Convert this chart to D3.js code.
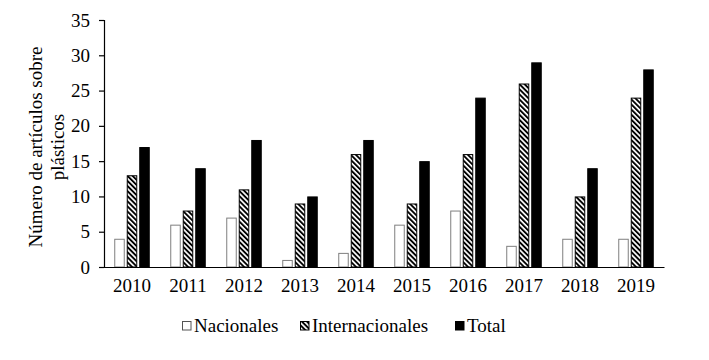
<!DOCTYPE html>
<html>
<head>
<meta charset="utf-8">
<script src="https://cdn.jsdelivr.net/npm/d3@7"></script>
<style>
  html, body { margin: 0; padding: 0; background: #fff; }
  svg text { font-family: "Liberation Serif", "Times New Roman", serif; fill: #000; }
</style>
</head>
<body>
<svg id="chart" width="709" height="360"></svg>
<script>
const years = ["2010","2011","2012","2013","2014","2015","2016","2017","2018","2019"];
const seriesNames = ["Nacionales","Internacionales","Total"];
const nacionales = [4, 6, 7, 1, 2, 6, 8, 3, 4, 4];
const internacionales = [13, 8, 11, 9, 16, 9, 16, 26, 10, 24];
const total = [17, 14, 18, 10, 18, 15, 24, 29, 14, 28];
const yTicks = [0, 5, 10, 15, 20, 25, 30, 35];
const yTitle = ["Número de artículos sobre", "plásticos"];

const seriesValues = [nacionales, internacionales, total];

const svg = d3.select("#chart");
const mLeft = 104, mRight = 664, mTop = 20, mBottom = 267;

const defs = svg.append("defs");
const pat = defs.append("pattern")
  .attr("id", "hatch")
  .attr("patternUnits", "userSpaceOnUse")
  .attr("width", 3.6).attr("height", 3.6)
  .attr("patternTransform", "rotate(-45)");
pat.append("rect").attr("width", 3.6).attr("height", 3.6).attr("fill", "#fff");
pat.append("rect").attr("width", 1.9).attr("height", 3.6).attr("fill", "#000");

const fills = ["#ffffff", "url(#hatch)", "#000000"];
const strokes = ["#7f7f7f", "#000000", "#000000"];

const x0 = d3.scaleBand().domain(years).range([mLeft, mRight]).paddingInner(0).paddingOuter(0);
const groupW = 37.5;
const x1 = d3.scaleBand().domain(seriesNames).range([0, groupW]).paddingInner(0.16).paddingOuter(0.08);
const y = d3.scaleLinear().domain([0, 35]).range([mBottom, mTop]);

// bars
const groups = svg.append("g").selectAll("g")
  .data(years)
  .join("g")
  .attr("transform", d => `translate(${x0(d) + (x0.bandwidth() - groupW) / 2},0)`);

groups.selectAll("rect")
  .data((d, i) => seriesNames.map((s, k) => ({ s, k, v: seriesValues[k][i] })))
  .join("rect")
  .attr("x", d => x1(d.s) + 0.5)
  .attr("y", d => y(d.v) + 0.5)
  .attr("width", x1.bandwidth() - 1)
  .attr("height", d => y(0) - y(d.v) - 0.5)
  .attr("fill", d => fills[d.k])
  .attr("stroke", d => strokes[d.k])
  .attr("stroke-width", 1);

// y axis
const yAxis = d3.axisLeft(y).tickValues(yTicks).tickSize(5).tickPadding(9);
const gy = svg.append("g").attr("transform", `translate(${mLeft},0)`).call(yAxis);
gy.select(".domain").attr("stroke", "#000").attr("stroke-width", 1.2);
gy.selectAll(".tick line").attr("stroke", "#000").attr("stroke-width", 1.2);
gy.selectAll("text").style("font-size", "19px").attr("fill", "#000")
  .style("font-family", '"Liberation Serif", serif');

// x axis
const xAxis = d3.axisBottom(x0).tickSize(0).tickPadding(12).tickSizeOuter(0);
const gx = svg.append("g").attr("transform", `translate(0,${mBottom})`).call(xAxis);
gx.select(".domain").attr("stroke", "#000").attr("stroke-width", 1.2);
gx.selectAll("text").style("font-size", "19px").attr("fill", "#000")
  .style("font-family", '"Liberation Serif", serif');

// y title
const tt = svg.append("text")
  .attr("transform", `translate(42,147) rotate(-90)`)
  .attr("text-anchor", "middle")
  .style("font-size", "19px");
tt.selectAll("tspan").data(yTitle).join("tspan")
  .attr("x", 0)
  .attr("dy", (d, i) => i === 0 ? 0 : 22)
  .text(d => d);

// legend
const legendX = [182, 300, 455];
const legendY = 321;
const lg = svg.append("g").selectAll("g").data(seriesNames).join("g")
  .attr("transform", (d, i) => `translate(${legendX[i]},${legendY})`);
lg.append("rect")
  .attr("x", 0.5).attr("y", 0.5).attr("width", 8.5).attr("height", 8.5)
  .attr("fill", (d, i) => fills[i])
  .attr("stroke", (d, i) => i === 0 ? "#555" : "#000");
lg.append("text")
  .attr("x", 12).attr("y", 10.5)
  .style("font-size", "19px")
  .text(d => d);
</script>
</body>
</html>
